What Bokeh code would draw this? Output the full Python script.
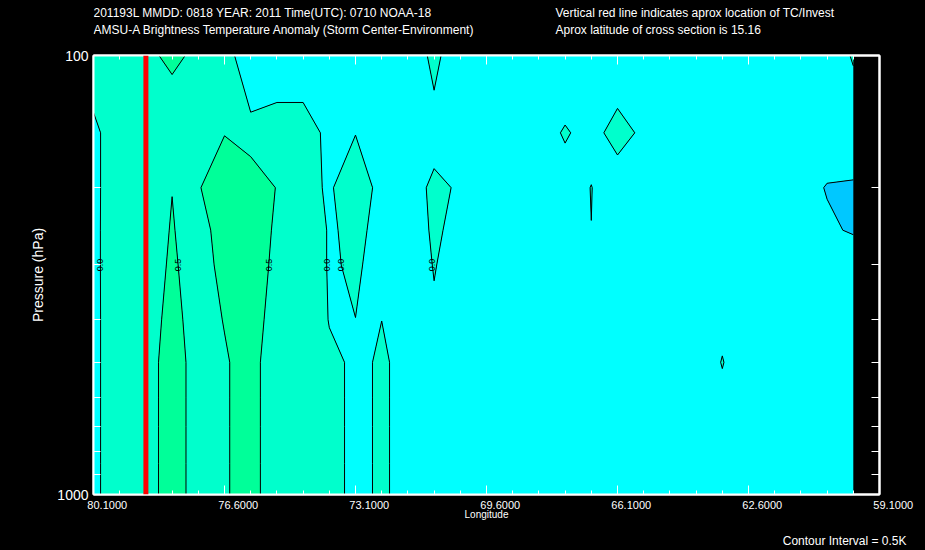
import numpy as np
from bokeh.plotting import figure
from bokeh.plotting.contour import contour_data
from bokeh.layouts import column
from bokeh.models import (Range1d, FixedTicker, LinearAxis, LogAxis, Span, Title,
                          CustomJSTickFormatter)
from bokeh.core.properties import value
from bokeh.embed import file_html
from bokeh.resources import INLINE

# ---------------- data ----------------
lons = [80.1, 79.4, 78.7, 78.0, 77.3, 76.6, 75.9, 75.2, 74.5, 73.8,
        73.1, 72.4, 71.7, 71.0, 70.3, 69.6, 68.9, 68.2, 67.5, 66.8,
        66.1, 65.4, 64.7, 64.0, 63.3, 62.6, 61.9, 61.2, 60.5, 59.8]

pressure_levels = [100, 150, 200, 250, 300, 400, 500, 600, 700, 850, 1000]

# temperature anomaly (K), one row per longitude, values at pressure_levels
anomaly_by_lon = [
    [0.23, -0.10, -0.10, -0.10, -0.10, -0.10, -0.10, -0.10, -0.10, -0.10, -0.10],
    [0.32, 0.27, 0.27, 0.28, 0.28, 0.27, 0.27, 0.27, 0.27, 0.27, 0.27],
    [0.40, 0.20, 0.15, 0.095, 0.145, 0.275, 0.315, 0.315, 0.315, 0.315, 0.315],
    [0.60, 0.124, 0.488, 0.55, 0.60, 0.65, 0.70, 0.70, 0.70, 0.70, 0.70],
    [0.40, 0.30, 0.455, 0.095, 0.165, 0.284, 0.323, 0.323, 0.323, 0.323, 0.323],
    [0.28, 0.48, 0.90, 0.95, 0.72, 0.52, 0.45, 0.45, 0.45, 0.45, 0.45],
    [-0.45, 0.20, 0.95, 0.90, 0.88, 0.85, 0.70, 0.70, 0.70, 0.70, 0.70],
    [-0.38, 0.30, 0.471, 0.394, 0.329, 0.164, 0.159, 0.159, 0.159, 0.159, 0.159],
    [-0.38, 0.30, 0.135, 0.45, 0.45, 0.40, 0.30, 0.30, 0.30, 0.30, 0.30],
    [-0.30, -0.155, -0.05, -0.05, -0.05, -0.02, 0.10, 0.10, 0.10, 0.10, 0.10],
    [-0.20, -0.01, 0.2625, 0.10, 0.06, -0.003, -0.072, -0.072, -0.072, -0.072, -0.072],
    [-0.20, -0.15, -0.14, -0.127, -0.162, -0.001, 0.039, 0.039, 0.039, 0.039, 0.039],
    [-0.46, -0.30, -0.35, -0.32, -0.266, -0.20, -0.091, -0.091, -0.091, -0.091, -0.091],
    [0.163, -0.245, 0.15, 0.08, 0.02, -0.057, -0.15, -0.15, -0.15, -0.15, -0.15],
    [-0.45, -0.30, -0.081, -0.155, -0.18, -0.20, -0.20, -0.20, -0.20, -0.20, -0.20],
    [-0.35, -0.30, -0.20, -0.22, -0.25, -0.25, -0.22, -0.22, -0.22, -0.22, -0.22],
    [-0.30, -0.28, -0.22, -0.25, -0.28, -0.26, -0.24, -0.24, -0.24, -0.24, -0.24],
    [-0.28, -0.137, -0.30, -0.28, -0.28, -0.27, -0.25, -0.25, -0.25, -0.25, -0.25],
    [-0.22, 0.03, -0.15, -0.30, -0.30, -0.28, -0.26, -0.26, -0.26, -0.26, -0.26],
    [-0.25, -0.11, 0.0072, -0.0024, -0.25, -0.28, -0.27, -0.27, -0.27, -0.27, -0.27],
    [-0.213, 0.12, -0.204, -0.30, -0.28, -0.27, -0.26, -0.26, -0.26, -0.26, -0.26],
    [-0.30, -0.062, -0.30, -0.30, -0.28, -0.27, -0.26, -0.26, -0.26, -0.26, -0.26],
    [-0.30, -0.25, -0.28, -0.30, -0.29, -0.28, -0.27, -0.27, -0.27, -0.27, -0.27],
    [-0.28, -0.27, -0.30, -0.31, -0.30, -0.29, -0.30, -0.30, -0.30, -0.30, -0.30],
    [-0.30, -0.30, -0.32, -0.30, -0.28, -0.10, 0.02, -0.10, -0.15, -0.18, -0.20],
    [-0.32, -0.32, -0.34, -0.33, -0.31, -0.30, -0.30, -0.30, -0.30, -0.30, -0.30],
    [-0.34, -0.35, -0.38, -0.36, -0.33, -0.31, -0.30, -0.30, -0.30, -0.30, -0.30],
    [-0.36, -0.38, -0.433, -0.42, -0.36, -0.32, -0.30, -0.30, -0.30, -0.30, -0.30],
    [-0.35, -0.40, -0.51, -0.47, -0.40, -0.33, -0.31, -0.31, -0.31, -0.31, -0.31],
    [0.05, -0.395, -0.52, -0.52, -0.353, -0.30, -0.30, -0.30, -0.30, -0.30, -0.30],
]

contour_levels = [-1.0, -0.5, 0.0, 0.5, 1.0]
fill_colors = ["#00C8FF", "#00FFFF", "#00FFCC", "#00FF99"]
contour_interval = 0.5
tc_lon = 78.7

x_tick_values = [80.1, 76.6, 73.1, 69.6, 66.1, 62.6, 59.1]
x_minor_ticks = lons + [59.1]
y_tick_values = [100, 200, 300, 400, 500, 600, 700, 800, 900, 1000]
y_tick_labels = {100: "100", 1000: "1000"}

title_left = ["201193L  MMDD: 0818 YEAR: 2011 Time(UTC): 0710 NOAA-18",
              "AMSU-A Brightness Temperature Anomaly (Storm Center-Environment)"]
title_right = ["Vertical red line indicates aprox location of TC/Invest",
               "Aprox latitude of cross section is 15.16"]

label_pressure = 300  # height at which contour lines carry their label

FONT = "Liberation Sans"
WHITE = "white"
W = 925
BORDER_L, BORDER_R = 93, 46
HEADER_H, MAIN_H, FOOTER_H = 40, 490, 20


def text_panel(height):
    f = figure(width=W, height=height,
               x_range=Range1d(BORDER_L, W - BORDER_R), y_range=Range1d(height, 0),
               x_axis_location=None, y_axis_location=None,
               output_backend="svg", toolbar_location=None,
               min_border_left=BORDER_L, min_border_right=BORDER_R,
               min_border_top=0, min_border_bottom=0,
               background_fill_color="black", border_fill_color="black",
               outline_line_color=None)
    f.grid.visible = False
    f.grid.grid_line_color = None
    return f


# ---------------- header (titles) ----------------
header = text_panel(HEADER_H)
header.text(x=[93, 93, 555, 555], y=[12, 29, 12, 29],
            text=title_left + title_right,
            text_font=value(FONT), text_font_size=value("12px"), text_color=WHITE,
            text_align="left", text_baseline="middle")

# ---------------- main cross-section ----------------
p = figure(width=W, height=MAIN_H,
           x_range=Range1d(x_tick_values[0], x_tick_values[-1]),
           y_range=Range1d(1000, 100),
           y_axis_type="log", x_axis_location=None, y_axis_location=None,
           output_backend="svg", toolbar_location=None,
           min_border_left=BORDER_L, min_border_right=BORDER_R,
           min_border_top=15, min_border_bottom=MAIN_H - 15 - 439,
           background_fill_color="black", border_fill_color="black",
           outline_line_color=WHITE, outline_line_width=2)
p.grid.visible = False

z = np.array(anomaly_by_lon).T
x_arr = np.array(lons, dtype=float)
y_arr = np.array(pressure_levels, dtype=float)

p.contour(x=x_arr, y=y_arr, z=z, levels=contour_levels,
          fill_color=fill_colors, line_color="black", line_width=1)

# contour labels: one per line, where it crosses label_pressure
cd = contour_data(x=x_arr, y=y_arr, z=z, levels=contour_levels, want_fill=False, want_line=True)
lab_x, lab_y, lab_t = [], [], []


def split_nan(xs, ys):
    xs = np.asarray(xs, dtype=float)
    ys = np.asarray(ys, dtype=float)
    bad = np.isnan(xs) | np.isnan(ys)
    start = 0
    for i in list(np.where(bad)[0]) + [len(xs)]:
        if i - start > 1:
            yield xs[start:i], ys[start:i]
        start = i + 1


for xs_l, ys_l, lev in zip(cd.line_data.xs, cd.line_data.ys, cd.line_data.levels):
    for xs, ys in split_nan(xs_l, ys_l):
        crossings = []
        for k in range(len(ys) - 1):
            y0, y1 = ys[k], ys[k + 1]
            if y0 != y1 and (y0 - label_pressure) * (y1 - label_pressure) <= 0:
                t = (label_pressure - y0) / (y1 - y0)
                crossings.append(xs[k] + t * (xs[k + 1] - xs[k]))
        if crossings:
            # warm contours labelled on their east flank, others on their west flank
            lab_x.append(min(crossings) if lev > 0 else max(crossings))
            lab_y.append(label_pressure)
            lab_t.append(f"{lev:.1f}")

p.text(x=lab_x, y=lab_y, text=lab_t, angle=np.pi / 2,
       text_font=value(FONT), text_font_size=value("9px"), text_color="black",
       text_align="center", text_baseline="middle")

# TC location
p.add_layout(Span(location=tc_lon, dimension="height", line_color="red", line_width=5))

# ---------------- axes ----------------
blank = "return ''"
label_pad = 9  # labels of the original sit a little right of their ticks

left = LogAxis(ticker=FixedTicker(ticks=y_tick_values, minor_ticks=[]),
               major_label_overrides={v: y_tick_labels.get(v, "") for v in y_tick_values},
               major_tick_in=7, major_tick_out=0, minor_tick_in=0, minor_tick_out=0,
               major_tick_line_color=WHITE, axis_line_color=WHITE, axis_line_width=2,
               major_label_text_color=WHITE, major_label_text_font=FONT,
               major_label_text_font_size="14px", major_label_standoff=5,
               axis_label="Pressure (hPa)", axis_label_text_color=WHITE,
               axis_label_text_font=FONT, axis_label_text_font_size="14px",
               axis_label_text_font_style="normal", axis_label_standoff=8)
p.add_layout(left, "left")

right = LogAxis(ticker=FixedTicker(ticks=y_tick_values, minor_ticks=[]),
                formatter=CustomJSTickFormatter(code=blank),
                major_tick_in=8, major_tick_out=0, minor_tick_in=0, minor_tick_out=0,
                major_tick_line_color=WHITE, axis_line_color=WHITE, axis_line_width=2,
                major_label_standoff=0, major_label_text_font_size="1px")
p.add_layout(right, "right")

top = LinearAxis(ticker=FixedTicker(ticks=x_tick_values, minor_ticks=x_minor_ticks),
                 formatter=CustomJSTickFormatter(code=blank),
                 major_tick_in=9, major_tick_out=0, minor_tick_in=4, minor_tick_out=0,
                 major_tick_line_color=WHITE, minor_tick_line_color=WHITE,
                 axis_line_color=WHITE, axis_line_width=2,
                 major_label_standoff=0, major_label_text_font_size="1px")
p.add_layout(top, "above")

bottom = LinearAxis(ticker=FixedTicker(ticks=x_tick_values, minor_ticks=x_minor_ticks),
                    formatter=CustomJSTickFormatter(
                        code="return '\\u00a0'.repeat(%d) + tick.toFixed(4);" % label_pad),
                    major_tick_in=9, major_tick_out=0, minor_tick_in=4, minor_tick_out=0,
                    major_tick_line_color=WHITE, minor_tick_line_color=WHITE,
                    axis_line_color=WHITE, axis_line_width=2,
                    major_label_standoff=4, major_label_text_color=WHITE,
                    major_label_text_font=FONT, major_label_text_font_size="11px",
                    axis_label="Longitude", axis_label_text_color=WHITE,
                    axis_label_text_font=FONT, axis_label_text_font_size="10px",
                    axis_label_text_font_style="normal", axis_label_standoff=-5)
p.add_layout(bottom, "below")

# ---------------- footer ----------------
footer = text_panel(FOOTER_H)
footer.add_layout(Title(text=f"Contour Interval = {contour_interval}K",
                        align="right", offset=-27, standoff=3, vertical_align="bottom",
                        text_color=WHITE, text_font=FONT, text_font_size="12px",
                        text_font_style="normal"), "above")

layout = column(header, p, footer, spacing=0)
html = file_html(layout, INLINE)
html = html.replace("</head>", "<style>html, body { background-color: #000; }</style></head>", 1)
open("out.html", "w").write(html)
